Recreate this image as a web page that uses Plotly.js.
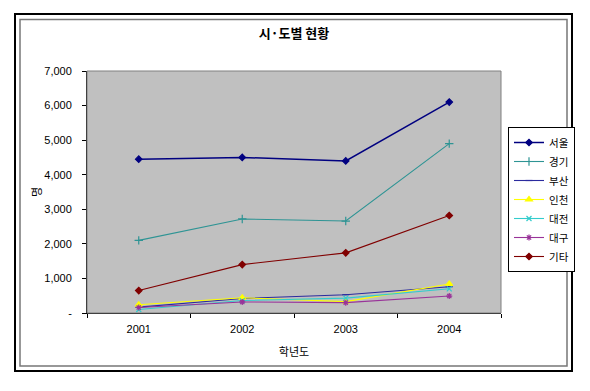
<!DOCTYPE html>
<html>
<head>
<meta charset="utf-8">
<script src="https://cdn.plot.ly/plotly-3.0.1.min.js"></script>
<style>html,body{margin:0;padding:0;background:#fff;}#chart{width:590px;height:391px;}</style>
</head>
<body>
<div id="chart"></div>
<script>
var years = ['2001', '2002', '2003', '2004'];
var seriesNames = ['서울', '경기', '부산', '인천', '대전', '대구', '기타'];
var seoul   = [4450, 4500, 4400, 6100];
var gyeonggi = [2100, 2720, 2660, 4900];
var busan   = [170, 420, 530, 760];
var incheon = [240, 440, 330, 840];
var daejeon = [100, 360, 430, 700];
var daegu   = [160, 320, 300, 490];
var etc     = [650, 1400, 1740, 2820];
var yTickVals = [0, 1000, 2000, 3000, 4000, 5000, 6000, 7000];
var yTickText = ['-', '1,000', '2,000', '3,000', '4,000', '5,000', '6,000', '7,000'];

var seriesValues = [seoul, gyeonggi, busan, incheon, daejeon, daegu, etc];
var colors = ['#000080', '#2E9494', '#2B2B9E', '#FFFF00', '#33CCCC', '#993399', '#800000'];
var symbols = ['diamond', 'cross-thin-open', 'line-ew-open', 'triangle-up', 'x-thin-open', 'asterisk-open', 'diamond'];
var sizes = [5, 6, 5, 6, 5, 5, 5];

var traces = seriesNames.map(function (name, i) {
  return {
    type: 'scatter', mode: 'lines+markers', name: name,
    x: years, y: seriesValues[i],
    line: {color: colors[i], width: i === 0 ? 1.5 : 1.1},
    marker: {symbol: symbols[i], size: sizes[i], color: colors[i], line: {color: colors[i], width: 1.2}}
  };
});

// paper helpers
var L = 87, R = 501, T = 71, B = 313;
function px(x) { return (x - L) / (R - L); }
function py(y) { return (B - y) / (B - T); }

var layout = {
  width: 590, height: 391,
  margin: {l: L, r: 590 - R, t: T, b: 391 - B, pad: 0},
  paper_bgcolor: '#ffffff',
  plot_bgcolor: '#C0C0C0',
  font: {family: 'Arial, "Liberation Sans", "Noto Sans CJK KR", sans-serif', size: 11, color: '#000'},
  showlegend: true,
  title: {text: '시·도별 현황', x: 0.5, xref: 'paper', y: 1 - 33 / 391, yanchor: 'middle',
          font: {family: '"Noto Sans CJK KR", sans-serif', size: 13, color: '#000', weight: 'bold'}},
  xaxis: {
    type: 'category', range: [-0.5, 3.5], tickson: 'boundaries', ticks: 'outside', ticklen: 4,
    tickcolor: '#000', showline: true, linecolor: '#000', linewidth: 1, showgrid: false, zeroline: false,
    tickfont: {size: 11}, ticklabelstandoff: 6,
    title: {text: '학년도', font: {family: '"Noto Sans CJK KR", sans-serif', size: 11}, standoff: 14}
  },
  yaxis: {
    range: [0, 7000], tickvals: yTickVals, ticktext: yTickText, ticks: 'outside', ticklen: 4,
    tickcolor: '#000', showline: true, linecolor: '#000', linewidth: 1, showgrid: false, zeroline: false,
    tickfont: {size: 11}, ticklabelstandoff: 8,
    title: {text: '명', font: {family: '"Noto Sans CJK KR", sans-serif', size: 11}, standoff: 0}
  },
  legend: {
    x: px(508), xanchor: 'left', y: py(127), yanchor: 'top',
    bgcolor: '#ffffff', bordercolor: '#000', borderwidth: 1,
    font: {family: '"Noto Sans CJK KR", sans-serif', size: 10.5},
    itemwidth: 30, tracegroupgap: 0
  },
  shapes: [
    {type: 'rect', xref: 'paper', yref: 'paper', x0: px(15), x1: px(572), y0: py(14), y1: py(371),
     line: {color: '#000', width: 2}, layer: 'below'},
    {type: 'rect', xref: 'paper', yref: 'paper', x0: px(20), x1: px(567), y0: py(19.5), y1: py(366),
     line: {color: '#777', width: 1.5}, layer: 'below'},
    {type: 'rect', xref: 'paper', yref: 'paper', x0: 0, x1: 1, y0: 0, y1: 1,
     line: {color: '#808080', width: 1}, layer: 'above'}
  ]
};

Plotly.newPlot('chart', traces, layout, {displayModeBar: false, staticPlot: true});
</script>
</body>
</html>
